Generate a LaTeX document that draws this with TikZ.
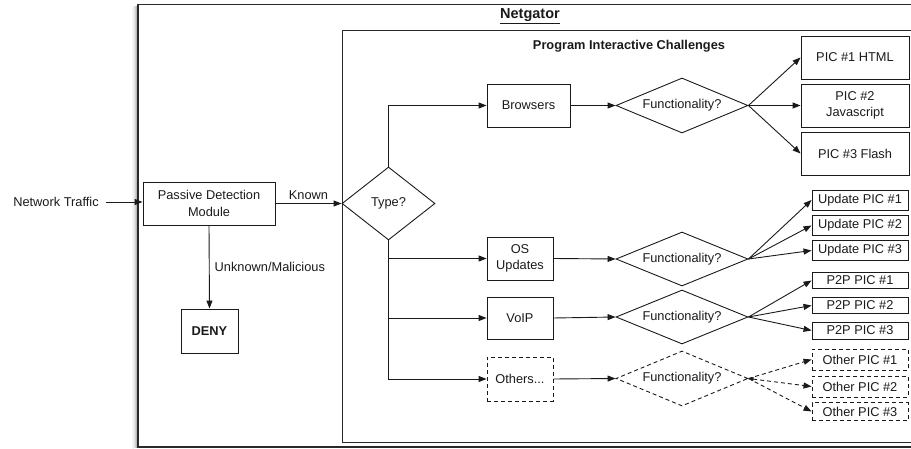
\documentclass[tikz,border=0pt]{standalone}
\usepackage{fontspec}
\setmainfont{Liberation Sans}
\usetikzlibrary{arrows.meta,shapes.geometric}
\definecolor{ink}{HTML}{1A1A1A}
\definecolor{frame}{HTML}{2A2A2A}
\newcommand{\fsz}{\fontsize{12.8}{16.5}\selectfont}
\begin{document}
\begin{tikzpicture}[x=1pt,y=-1pt,
  every node/.style={text=ink, font=\fsz},
  box/.style={draw=ink, line width=0.9pt, inner sep=0pt, align=center},
  dbox/.style={box, dash pattern=on 4pt off 3pt},
  dia/.style={diamond, draw=ink, line width=0.9pt, inner sep=0pt, aspect=2.4,
              minimum width=132pt, minimum height=55pt},
  ddia/.style={dia, dash pattern=on 4pt off 3pt},
  flow/.style={draw=ink, line width=0.9pt, -{Triangle[length=8pt,width=6pt]}},
  dflow/.style={flow, dash pattern=on 4pt off 3pt},
  lbl/.style={inner sep=1pt}]

\useasboundingbox (0,0) rectangle (911,449);
\begin{scope}
\clip (0,0) rectangle (911,449);

% soft shadow along the left and bottom of the outer frame
\foreach \d/\o in {1/0.40,2/0.28,3/0.18,4/0.11,5/0.06,6/0.03}{
  \draw[black, opacity=\o, line width=1pt] (138-\d,6) -- (138-\d,447+\d*0.3);
}
% outer frame and inner frame
\draw[frame, line width=1.6pt] (138,4.5) rectangle (940,447);
\draw[frame, line width=1pt] (342,31) rectangle (930,442);
\end{scope}

% titles
\node[font=\fontsize{14.5}{16}\selectfont\bfseries] (title) at (530,16) {\underline{Netgator}};
\node[font=\fontsize{12.8}{15}\selectfont\bfseries] (pictitle) at (629,46) {Program Interactive Challenges};

% entry and detection
\node[lbl] (traffic) at (56,202) {Network Traffic};
\node[box, minimum width=132pt, minimum height=43pt] (pdm) at (209,203.5) {Passive Detection\\[1pt]Module};
\node[box, minimum width=57pt, minimum height=44pt, font=\fsz\bfseries] (deny) at (209.5,331) {DENY};
\node[dia, aspect=1.27, minimum width=93pt, minimum height=73pt] (type) at (388.5,203.5) {Type?};

\path (traffic.east) ++(6,0) coordinate (tstart);
\draw[flow] (tstart) -- (pdm.west |- tstart);
\draw[flow] (pdm.east |- type.west) -- node[above, lbl, yshift=2pt] {Known} (type.west);
\draw[flow] (pdm.south) -- node[right, lbl, pos=0.5, xshift=4pt] {Unknown/Malicious} (deny.north);

% challenge categories
\node[box, minimum width=83pt, minimum height=43pt] (browsers) at (528.5,105.5) {Browsers};
\node[box, minimum width=66pt, minimum height=43pt] (osupd) at (520,258.5) {OS\\Updates};
\node[box, minimum width=66pt, minimum height=42pt] (voip) at (520,318) {VoIP};
\node[dbox, minimum width=66pt, minimum height=44pt] (others) at (520,379) {Others...};

\draw[flow] (type.north) |- (browsers.west);
\draw[flow] (type.south) |- (osupd.west);
\draw[flow] (type.south) |- (voip.west);
\draw[flow] (type.south) |- (others.west);

% functionality decisions
\node[dia] (f1) at (682,105.5) {Functionality?};
\node[dia, minimum height=54pt] (f2) at (682,259) {Functionality?};
\node[dia, minimum height=54pt] (f3) at (682,317) {Functionality?};
\node[ddia] (f4) at (682,378.5) {Functionality?};

\draw[flow] (browsers.east) -- (f1.west);
\draw[flow] (osupd.east) -- (f2.west);
\draw[flow] (voip.east) -- (f3.west);
\draw[flow] (others.east) -- (f4.west);

% browser challenges
\node[box, minimum width=108pt, minimum height=43pt] (html) at (855,57.5) {PIC \#1 HTML};
\node[box, minimum width=108pt, minimum height=43pt] (js) at (855,105.5) {PIC \#2\\Javascript};
\node[box, minimum width=108pt, minimum height=43pt] (flash) at (855,153.5) {PIC \#3 Flash};
\draw[flow] (f1.east) -- (html.west);
\draw[flow] (f1.east) -- (js.west);
\draw[flow] (f1.east) -- (flash.west);

% update challenges
\node[box, minimum width=96pt, minimum height=20pt] (u1) at (860,200) {Update PIC \#1};
\node[box, minimum width=96pt, minimum height=20pt] (u2) at (860,225.5) {Update PIC \#2};
\node[box, minimum width=96pt, minimum height=20pt] (u3) at (860,250.5) {Update PIC \#3};
\draw[flow] (f2.east) -- (u1.west);
\draw[flow] (f2.east) -- (u2.west);
\draw[flow] (f2.east) -- (u3.west);

% peer-to-peer challenges
\node[box, minimum width=96pt, minimum height=16pt] (p1) at (860,280.5) {P2P PIC \#1};
\node[box, minimum width=96pt, minimum height=16pt] (p2) at (860,305.5) {P2P PIC \#2};
\node[box, minimum width=96pt, minimum height=17pt] (p3) at (860,330.5) {P2P PIC \#3};
\draw[flow] (f3.east) -- (p1.west);
\draw[flow] (f3.east) -- (p2.west);
\draw[flow] (f3.east) -- (p3.west);

% other challenges
\node[dbox, minimum width=96pt, minimum height=21pt] (o1) at (860,359.5) {Other PIC \#1};
\node[dbox, minimum width=96pt, minimum height=21pt] (o2) at (860,386.5) {Other PIC \#2};
\node[dbox, minimum width=96pt, minimum height=18pt] (o3) at (860,411.5) {Other PIC \#3};
\draw[dflow] (f4.east) -- (o1.west);
\draw[dflow, {Triangle[length=5pt,width=4pt]}-{Triangle[length=8pt,width=6pt]}] (f4.east) -- (o2.west);
\draw[dflow] (f4.east) -- (o3.west);
\end{tikzpicture}
\end{document}
